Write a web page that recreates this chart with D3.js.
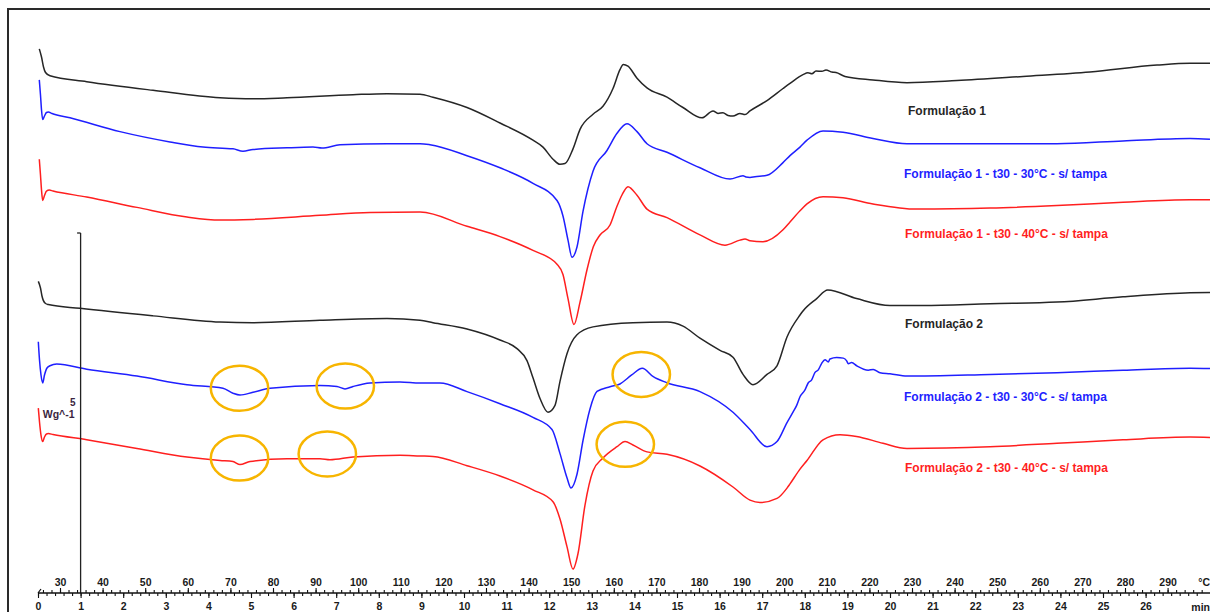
<!DOCTYPE html>
<html>
<head>
<meta charset="utf-8">
<script src="https://cdn.jsdelivr.net/npm/d3@7"></script>
<style>
  html, body { margin: 0; padding: 0; background: #fff; }
  svg { display: block; font-family: "Liberation Sans", Arial, sans-serif; }
</style>
</head>
<body>
<svg id="chart" width="1210" height="612"></svg>
<script>
// DSC heat-flow curves, [temperature °C, heat flow W/g (offset)]
const form1 = [[25.14,7.557],[25.66,7.444],[26.13,7.306],[26.60,7.229],[27.65,7.183],[36.27,7.101],[51.83,6.982],[67.56,6.878],[75.30,6.863],[83.29,6.878],[98.78,6.921],[106.76,6.935],[114.51,6.928],[117.56,6.886],[125.54,6.743],[133.29,6.528],[141.03,6.289],[143.38,6.193],[145.73,6.025],[147.37,5.954],[148.54,5.964],[150.42,6.169],[152.07,6.440],[155.12,6.650],[157.46,6.760],[159.81,7.007],[161.45,7.269],[162.23,7.342],[163.33,7.317],[165.45,7.150],[167.79,7.015],[172.49,6.886],[176.24,6.743],[180.70,6.600],[183.29,6.696],[184.46,6.660],[185.63,6.671],[186.81,6.632],[187.98,6.624],[189.62,6.660],[190.80,6.645],[191.97,6.696],[195.96,6.839],[199.72,7.007],[201.36,7.078],[204.41,7.200],[205.58,7.225],[206.52,7.212],[207.46,7.250],[208.87,7.245],[209.81,7.265],[211.22,7.235],[212.16,7.228],[214.27,7.175],[220.84,7.126],[228.82,7.088],[240.56,7.117],[256.05,7.174],[271.78,7.236],[287.51,7.332],[295.26,7.356],[299.95,7.356]];

const form1T30 = [[25.14,7.126],[25.42,6.917],[25.66,6.708],[25.94,6.576],[26.36,6.625],[26.83,6.674],[27.25,6.681],[28.12,6.660],[32.35,6.600],[44.08,6.408],[55.82,6.265],[63.57,6.193],[70.61,6.169],[72.96,6.136],[75.30,6.160],[83.29,6.183],[89.39,6.193],[91.50,6.179],[95.73,6.226],[106.76,6.240],[114.51,6.240],[116.85,6.226],[125.54,6.074],[133.29,5.906],[141.03,5.690],[146.67,5.451],[148.07,5.236],[149.25,4.901],[150.19,4.663],[151.36,4.806],[152.77,5.300],[155.12,5.858],[158.40,6.146],[160.75,6.385],[163.09,6.518],[165.45,6.408],[167.79,6.240],[172.49,6.121],[180.23,5.906],[187.28,5.749],[190.33,5.796],[191.03,5.778],[191.97,5.772],[193.14,5.782],[195.96,5.801],[199.72,5.978],[201.36,6.074],[203.71,6.193],[205.35,6.289],[209.11,6.418],[213.80,6.399],[220.84,6.313],[228.82,6.240],[248.31,6.240],[264.03,6.240],[279.53,6.279],[295.26,6.313],[299.95,6.303]];

const form1T40 = [[25.14,6.025],[25.42,5.806],[25.66,5.597],[25.94,5.451],[26.36,5.521],[26.83,5.583],[27.49,5.596],[28.36,5.583],[36.27,5.500],[48.07,5.356],[59.81,5.222],[67.56,5.179],[75.30,5.189],[91.03,5.246],[102.77,5.285],[114.51,5.290],[125.54,5.093],[133.29,4.950],[141.03,4.758],[146.67,4.567],[148.07,4.424],[149.25,4.089],[150.65,3.729],[152.07,4.040],[153.71,4.490],[155.19,4.810],[156.76,4.972],[159.11,5.111],[160.68,5.361],[161.92,5.528],[163.33,5.643],[165.45,5.524],[167.79,5.332],[172.49,5.213],[180.23,4.974],[186.10,4.831],[189.62,4.901],[190.80,4.917],[191.97,4.892],[195.02,4.878],[199.72,5.044],[201.36,5.153],[203.71,5.308],[205.35,5.404],[209.11,5.504],[213.80,5.490],[220.84,5.404],[231.17,5.332],[248.31,5.346],[264.03,5.381],[279.53,5.428],[295.26,5.461],[299.95,5.461]];

const form2 = [[24.91,4.328],[25.42,4.236],[25.77,4.125],[26.08,4.064],[26.60,4.021],[27.25,4.007],[34.69,3.954],[51.83,3.849],[67.56,3.763],[75.30,3.754],[91.03,3.788],[106.76,3.811],[114.51,3.788],[117.56,3.754],[125.54,3.668],[133.29,3.514],[137.28,3.394],[139.62,3.228],[141.03,2.989],[142.68,2.701],[144.55,2.510],[146.20,2.606],[147.37,2.940],[149.01,3.324],[151.36,3.586],[155.12,3.696],[164.50,3.754],[172.49,3.763],[176.24,3.706],[180.23,3.539],[184.93,3.371],[187.98,3.275],[190.33,3.036],[192.67,2.893],[195.96,3.036],[198.31,3.156],[200.66,3.556],[203.71,3.861],[204.41,3.917],[207.63,4.089],[210.21,4.208],[216.98,4.089],[224.83,3.993],[232.58,3.993],[248.31,4.017],[264.03,4.040],[279.53,4.113],[295.26,4.169],[299.95,4.175]];

const form2T30 = [[24.91,3.490],[25.19,3.236],[25.54,3.028],[25.94,2.917],[26.36,3.028],[26.95,3.125],[27.65,3.156],[29.23,3.179],[36.27,3.108],[48.07,3.013],[59.81,2.893],[68.26,2.844],[70.61,2.774],[72.25,2.749],[75.30,2.788],[79.30,2.844],[91.03,2.883],[95.02,2.868],[96.90,2.835],[98.78,2.868],[102.77,2.917],[109.81,2.931],[114.51,2.917],[119.20,2.917],[125.54,2.797],[133.29,2.629],[141.03,2.439],[145.49,2.271],[147.37,1.936],[149.01,1.601],[149.96,1.458],[151.36,1.649],[152.77,2.118],[154.41,2.556],[156.06,2.799],[159.11,2.865],[161.45,2.903],[164.20,3.028],[166.69,3.121],[169.27,3.004],[172.42,2.921],[180.23,2.797],[187.98,2.510],[191.97,2.271],[195.96,2.032],[198.31,2.103],[200.66,2.367],[202.13,2.518],[202.93,2.606],[203.71,2.725],[204.88,2.821],[205.66,2.920],[206.45,2.960],[207.20,3.060],[208.00,3.099],[208.80,3.190],[209.58,3.240],[210.35,3.210],[210.75,3.250],[212.32,3.270],[213.87,3.262],[214.67,3.225],[215.04,3.185],[215.84,3.200],[217.02,3.156],[219.74,3.095],[220.91,3.105],[222.49,3.060],[224.83,3.046],[228.82,3.013],[248.31,3.036],[264.03,3.060],[279.53,3.093],[295.26,3.122],[299.95,3.118]];

const form2T40 = [[24.91,2.568],[25.19,2.375],[25.54,2.194],[25.94,2.103],[26.36,2.167],[26.83,2.208],[27.25,2.214],[28.36,2.201],[36.27,2.128],[48.07,2.008],[59.81,1.889],[67.56,1.840],[70.61,1.826],[72.25,1.783],[74.60,1.826],[83.29,1.864],[91.03,1.864],[93.38,1.850],[98.78,1.889],[109.81,1.913],[114.51,1.903],[117.56,1.897],[125.54,1.768],[133.29,1.625],[141.03,1.433],[145.73,1.267],[147.37,1.028],[149.01,0.644],[150.42,0.333],[151.60,0.549],[153.24,1.222],[155.12,1.694],[157.46,1.875],[160.75,2.032],[162.63,2.103],[164.50,2.056],[167.79,1.960],[172.49,1.926],[180.23,1.764],[187.98,1.472],[191.97,1.290],[194.32,1.257],[198.31,1.314],[200.66,1.457],[201.36,1.515],[203.71,1.720],[205.35,1.840],[209.11,2.128],[213.10,2.199],[216.98,2.175],[223.19,2.079],[228.82,2.008],[248.31,2.032],[264.03,2.079],[279.53,2.128],[295.26,2.165],[299.95,2.161]];

const seriesData = [form1, form1T30, form1T40, form2, form2T30, form2T40];
const seriesNames = [
  "Formulação 1",
  "Formulação 1 - t30 - 30°C - s/ tampa",
  "Formulação 1 - t30 - 40°C - s/ tampa",
  "Formulação 2",
  "Formulação 2 - t30 - 30°C - s/ tampa",
  "Formulação 2 - t30 - 40°C - s/ tampa"
];
const seriesColors = ["#262626", "#1f1fff", "#ff1f1f", "#262626", "#1f1fff", "#ff1f1f"];
// curve label anchors [°C, W/g]
const labelTemps = [229.06, 228.12, 228.35, 228.35, 228.12, 228.35];
const labelFlows = [6.639, 5.764, 4.931, 3.681, 2.667, 1.674];

// highlighted thermal events (ellipse centres)
const eventTemps = [72.14, 96.97, 72.14, 92.75, 166.45, 162.70];
const eventFlows = [2.844, 2.874, 1.874, 1.931, 3.036, 2.065];
const eventRadiusT = 6.74;   // °C
const eventRadiusF = 0.3125; // W/g

// axes
const tempTicks = d3.range(30, 291, 10);
const tempMinor = d3.range(26, 299, 2);
const timeTicks = d3.range(0, 27, 1);
const timeMinor = d3.range(0, 27.3, 0.2);
const scaleBarValue = 5; // W/g

const svg = d3.select("#chart");
const axisY = 593;

const x = d3.scaleLinear().domain([30, 290]).range([60, 1167.6]);
const xTime = d3.scaleLinear().domain([0, 26]).range([38, 1145.6]);
const y = d3.scaleLinear().domain([0, 5]).range([axisY, 233]);

// frame (open on the right, runs past the bottom edge)
svg.append("path")
  .attr("d", "M1220,9 H8 V620")
  .attr("fill", "none").attr("stroke", "#2a2a2a").attr("stroke-width", 2);

svg.append("clipPath").attr("id", "plotClip")
  .append("rect").attr("x", 9).attr("y", 10).attr("width", 1210).attr("height", 600);

// curves
const line = d3.line()
  .x(d => x(d[0]))
  .y(d => y(d[1]))
  .curve(d3.curveMonotoneX);

const curves = svg.append("g").attr("clip-path", "url(#plotClip)");
seriesData.forEach((s, i) => {
  curves.append("path")
    .datum(s)
    .attr("d", line)
    .attr("fill", "none")
    .attr("stroke", seriesColors[i])
    .attr("stroke-width", 1.5)
    .attr("stroke-linejoin", "round");
});

// curve labels
svg.append("g").selectAll("text")
  .data(seriesNames)
  .join("text")
  .attr("x", (d, i) => x(labelTemps[i]))
  .attr("y", (d, i) => y(labelFlows[i]))
  .attr("fill", (d, i) => seriesColors[i])
  .attr("font-size", 12)
  .attr("font-weight", "bold")
  .text(d => d);

// event ellipses
svg.append("g").selectAll("ellipse")
  .data(eventTemps)
  .join("ellipse")
  .attr("cx", d => x(d))
  .attr("cy", (d, i) => y(eventFlows[i]))
  .attr("rx", x(30 + eventRadiusT) - x(30))
  .attr("ry", y(0) - y(eventRadiusF))
  .attr("fill", "none")
  .attr("stroke", "#f7b500")
  .attr("stroke-width", 2.5);

// heat-flow scale bar at t = 1 min
const barX = xTime(1);
svg.append("line")
  .attr("x1", barX).attr("x2", barX)
  .attr("y1", y(scaleBarValue)).attr("y2", y(0))
  .attr("stroke", "#222").attr("stroke-width", 1.3);
svg.append("line")
  .attr("x1", barX - 3.5).attr("x2", barX)
  .attr("y1", y(scaleBarValue)).attr("y2", y(scaleBarValue))
  .attr("stroke", "#222").attr("stroke-width", 1.3);
svg.append("text")
  .attr("x", barX - 5).attr("y", 406)
  .attr("text-anchor", "end")
  .attr("font-size", 10).attr("font-weight", "bold").attr("fill", "#3a2440")
  .text(scaleBarValue);
svg.append("text")
  .attr("x", barX - 6).attr("y", 418)
  .attr("text-anchor", "end")
  .attr("font-size", 10.5).attr("font-weight", "bold").attr("fill", "#3a2440")
  .text("Wg^-1");

// baseline of the abscissa
svg.append("line")
  .attr("x1", xTime(0)).attr("x2", 1210)
  .attr("y1", axisY).attr("y2", axisY)
  .attr("stroke", "#111").attr("stroke-width", 1.3);
svg.append("path")
  .attr("d", `M${xTime(0)},${axisY} L${xTime(0) + 3},${axisY - 4}`)
  .attr("stroke", "#111").attr("stroke-width", 1.2).attr("fill", "none");

function styleAxis(g) {
  g.select(".domain").remove();
  g.selectAll("line").attr("stroke", "#111").attr("stroke-width", 1.1);
  g.selectAll("text")
    .attr("font-family", "'Liberation Sans', Arial, sans-serif")
    .attr("font-size", 10.5).attr("font-weight", "bold").attr("fill", "#1a1a1a");
}

// temperature scale (above)
svg.append("g").attr("transform", `translate(0,${axisY})`)
  .call(d3.axisTop(x).tickValues(tempMinor).tickSize(3).tickFormat(""))
  .call(styleAxis);
svg.append("g").attr("transform", `translate(0,${axisY})`)
  .call(d3.axisTop(x).tickValues(tempTicks).tickSize(5).tickPadding(2).tickSizeOuter(0))
  .call(styleAxis);

// time scale (below)
svg.append("g").attr("transform", `translate(0,${axisY})`)
  .call(d3.axisBottom(xTime).tickValues(timeMinor).tickSize(3).tickFormat(""))
  .call(styleAxis);
svg.append("g").attr("transform", `translate(0,${axisY})`)
  .call(d3.axisBottom(xTime).tickValues(timeTicks).tickSize(5).tickPadding(5).tickSizeOuter(0))
  .call(styleAxis);

// units
svg.append("text")
  .attr("x", 1210).attr("y", axisY - 7)
  .attr("text-anchor", "end")
  .attr("font-size", 10.5).attr("font-weight", "bold").attr("fill", "#1a1a1a")
  .text("°C");
svg.append("text")
  .attr("x", 1210).attr("y", axisY + 18)
  .attr("text-anchor", "end")
  .attr("font-size", 10.5).attr("font-weight", "bold").attr("fill", "#1a1a1a")
  .text("min");
</script>
</body>
</html>
